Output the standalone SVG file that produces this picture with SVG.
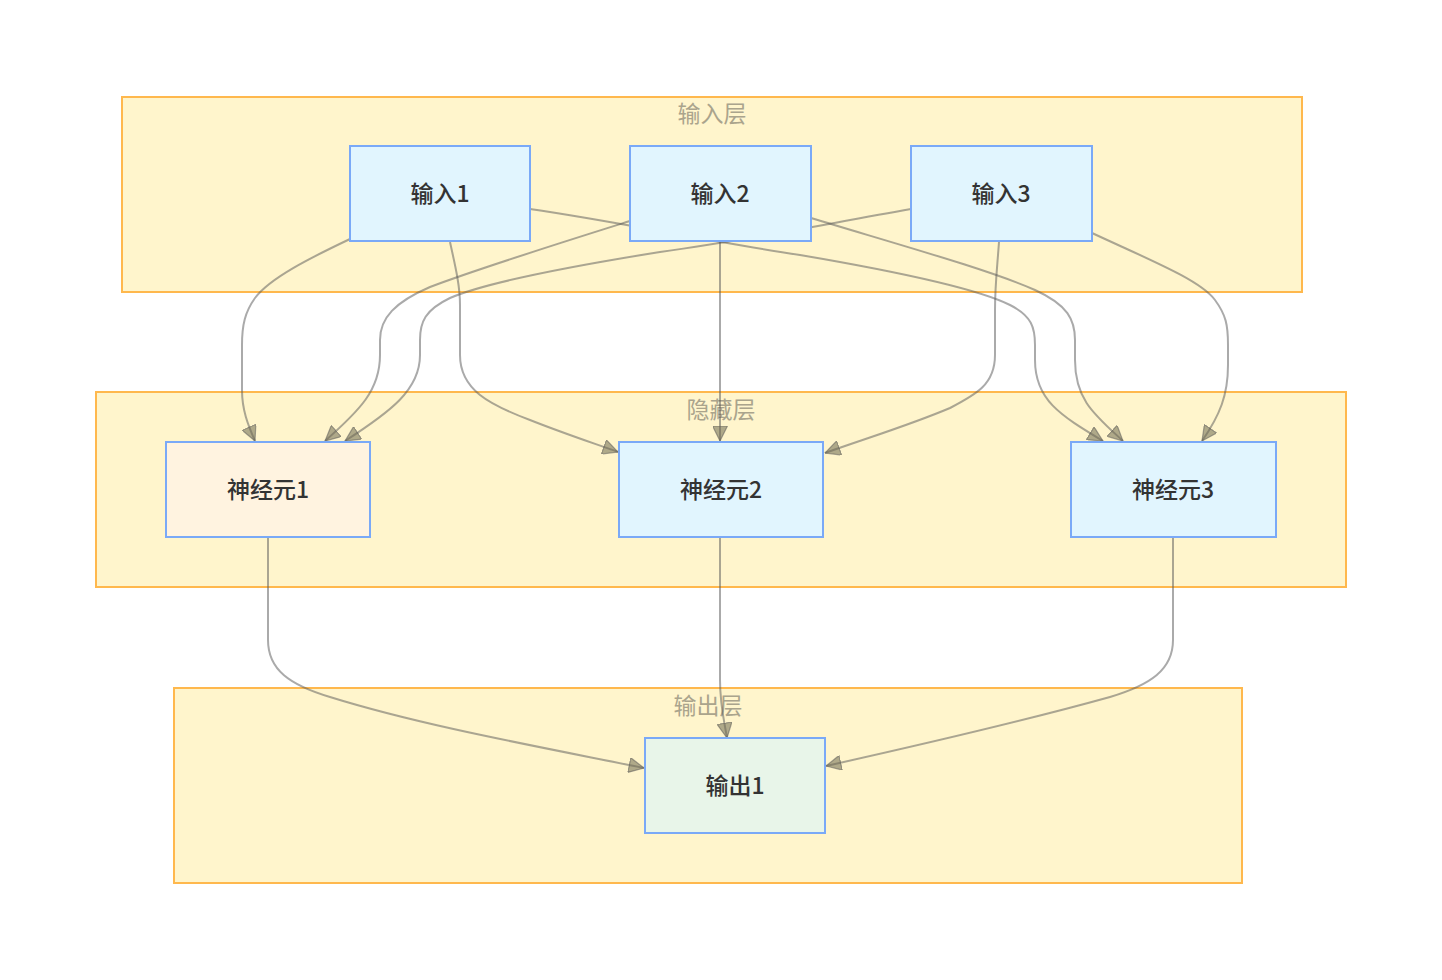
<svg xmlns="http://www.w3.org/2000/svg" width="1442" height="980" viewBox="0 0 1442 980">
  <style>
    .cluster rect { fill: #fff5cc; stroke: #ffb84d; stroke-width: 2; }
    .cluster text { font-family: "Noto Sans CJK SC", "Noto Sans", sans-serif; font-size: 23px; fill: #aaa48c; text-anchor: middle; dominant-baseline: central; }
    .node rect { fill: #e1f5fe; stroke: #7aa9f7; stroke-width: 2; }
    .node text { font-family: "Noto Sans CJK SC", "Noto Sans", sans-serif; font-size: 23px; font-weight: 500; fill: #333333; text-anchor: middle; dominant-baseline: central; }
    #n1 rect { fill: #fff3e0; }
    #out1 rect { fill: #e8f5e9; }
    .edge { fill: none; stroke: #555555; stroke-opacity: 0.5; stroke-width: 2; marker-end: url(#arrow); }
  </style>
  <defs>
    <marker id="arrow" viewBox="0 0 10 10" refX="10" refY="5" markerUnits="userSpaceOnUse" markerWidth="16" markerHeight="15" orient="auto">
      <path d="M0,0 L10,5 L0,10 z" fill="#6e6a52" fill-opacity="0.55" stroke="#555" stroke-opacity="0.5" stroke-width="0.8"/>
    </marker>
  </defs>

  <!-- layer frames -->
  <g id="layer-input" class="cluster">
    <rect x="122" y="97" width="1180" height="195"/>
    <text x="712" y="112">输入层</text>
  </g>
  <g id="layer-hidden" class="cluster">
    <rect x="96" y="392" width="1250" height="195"/>
    <text x="721" y="408">隐藏层</text>
  </g>
  <g id="layer-output" class="cluster">
    <rect x="174" y="688" width="1068" height="195"/>
    <text x="708" y="704">输出层</text>
  </g>

  <!-- connections -->
  <g id="edges">
    <!-- input 1 -->
    <path class="edge" d="M350,239 C310,258 270,278 255,298 C245,312 242,325 242,345 L242,390 C242,410 248,425 255,441"/>
    <path class="edge" d="M450,242 C455,265 460,285 460,305 L460,355 C460,390 490,405 530,420 C560,432 590,442 618,452"/>
    <path class="edge" d="M530,209 C620,222 700,240 800,255 C900,272 980,290 1010,305 C1032,316 1035,328 1035,345 L1035,360 C1035,400 1060,415 1103,441"/>
    <!-- input 2 -->
    <path class="edge" d="M630,221 C560,243 480,268 430,287 C395,302 380,318 380,340 L380,355 C380,390 360,410 325,441"/>
    <path class="edge" d="M720,242 L720,441"/>
    <path class="edge" d="M811,218 C900,245 990,270 1035,290 C1068,305 1075,320 1075,340 L1075,360 C1075,400 1095,415 1123,441"/>
    <!-- input 3 -->
    <path class="edge" d="M911,209 C820,225 760,238 660,252 C560,268 480,285 450,298 C425,310 420,322 420,340 L420,355 C420,390 390,412 345,441"/>
    <path class="edge" d="M999,242 C997,270 995,285 995,310 L995,355 C995,385 975,395 950,408 C910,425 870,437 825,453"/>
    <path class="edge" d="M1092,233 C1150,260 1200,280 1215,300 C1226,315 1228,325 1228,345 L1228,365 C1228,395 1220,415 1202,441"/>
    <!-- hidden to output -->
    <path class="edge" d="M268,538 L268,640 C268,670 290,685 330,697 C420,725 530,745 644,768"/>
    <path class="edge" d="M720,538 L720,680 C720,705 724,720 727,738"/>
    <path class="edge" d="M1173,538 L1173,640 C1173,670 1150,685 1110,697 C1020,722 920,745 826,766"/>
  </g>

  <!-- input nodes -->
  <g id="in1" class="node">
    <rect x="350" y="146" width="180" height="95"/>
    <text x="440" y="192">输入1</text>
  </g>
  <g id="in2" class="node">
    <rect x="630" y="146" width="181" height="95"/>
    <text x="720" y="192">输入2</text>
  </g>
  <g id="in3" class="node">
    <rect x="911" y="146" width="181" height="95"/>
    <text x="1001" y="192">输入3</text>
  </g>

  <!-- hidden nodes -->
  <g id="n1" class="node">
    <rect x="166" y="442" width="204" height="95"/>
    <text x="268" y="488">神经元1</text>
  </g>
  <g id="n2" class="node">
    <rect x="619" y="442" width="204" height="95"/>
    <text x="721" y="488">神经元2</text>
  </g>
  <g id="n3" class="node">
    <rect x="1071" y="442" width="205" height="95"/>
    <text x="1173" y="488">神经元3</text>
  </g>

  <!-- output node -->
  <g id="out1" class="node">
    <rect x="645" y="738" width="180" height="95"/>
    <text x="735" y="784">输出1</text>
  </g>
</svg>
